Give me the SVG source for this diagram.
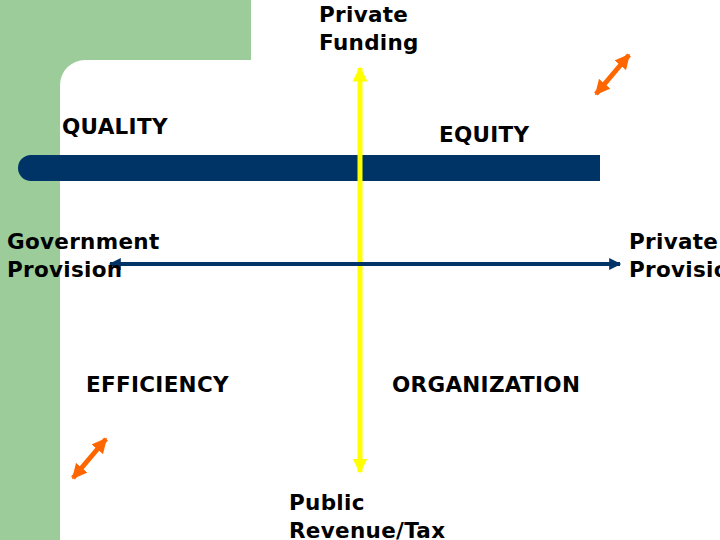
<svg xmlns="http://www.w3.org/2000/svg" width="720" height="540" viewBox="0 0 720 540">
<style>
.t{font-family:"DejaVu Sans",Verdana,sans-serif;font-weight:bold;font-size:21.5px;letter-spacing:0.3px;fill:#000}
</style>
<defs>
<marker id="ya" viewBox="0 0 10 10" refX="9" refY="5" markerWidth="3" markerHeight="3.4" orient="auto-start-reverse" markerUnits="strokeWidth"><path d="M0,0L10,5L0,10z" fill="#ffff00"/></marker>
<marker id="ba" viewBox="0 0 10 10" refX="9" refY="5" markerWidth="4" markerHeight="3" orient="auto-start-reverse" markerUnits="strokeWidth"><path d="M0,0L10,5L0,10z" fill="#003366"/></marker>
<marker id="oa" viewBox="0 0 10 10" refX="9" refY="5" markerWidth="3" markerHeight="3.2" orient="auto-start-reverse" markerUnits="strokeWidth"><path d="M0,0L10,5L0,10z" fill="#ff6600"/></marker>
</defs>
<rect width="720" height="540" fill="#fff"/>
<g id="background">
<path d="M0,0H251V60H85A25,25 0 0 0 60,85V540H0Z" fill="#9ccc9a"/>
<path d="M18,155H600V181H31A13,13 0 0 1 31,155Z" fill="#003366"/>
</g>
<g id="connectors">
<line x1="360" y1="68" x2="360" y2="472" stroke="#ffff00" stroke-width="5" marker-start="url(#ya)" marker-end="url(#ya)"/>
<line x1="110" y1="264" x2="620" y2="264" stroke="#003366" stroke-width="4" marker-start="url(#ba)" marker-end="url(#ba)"/>
<line x1="596" y1="94" x2="629" y2="55" stroke="#ff6600" stroke-width="5" marker-start="url(#oa)" marker-end="url(#oa)"/>
<line x1="73" y1="478" x2="106" y2="439" stroke="#ff6600" stroke-width="5" marker-start="url(#oa)" marker-end="url(#oa)"/>
</g>
<g id="private-funding"><text class="t" x="319" y="22">Private</text><text class="t" x="319" y="50">Funding</text></g>
<g id="quality"><text class="t" x="62" y="134">QUALITY</text></g>
<g id="equity"><text class="t" x="439" y="142">EQUITY</text></g>
<g id="government-provision"><text class="t" x="7" y="249">Government</text><text class="t" x="7" y="277">Provision</text></g>
<g id="private-provision"><text class="t" x="629" y="249">Private</text><text class="t" x="629" y="277">Provision</text></g>
<g id="efficiency"><text class="t" x="86" y="392">EFFICIENCY</text></g>
<g id="organization"><text class="t" x="392" y="392">ORGANIZATION</text></g>
<g id="public-revenue"><text class="t" x="289" y="510">Public</text><text class="t" x="289" y="538">Revenue/Tax</text></g>
</svg>
